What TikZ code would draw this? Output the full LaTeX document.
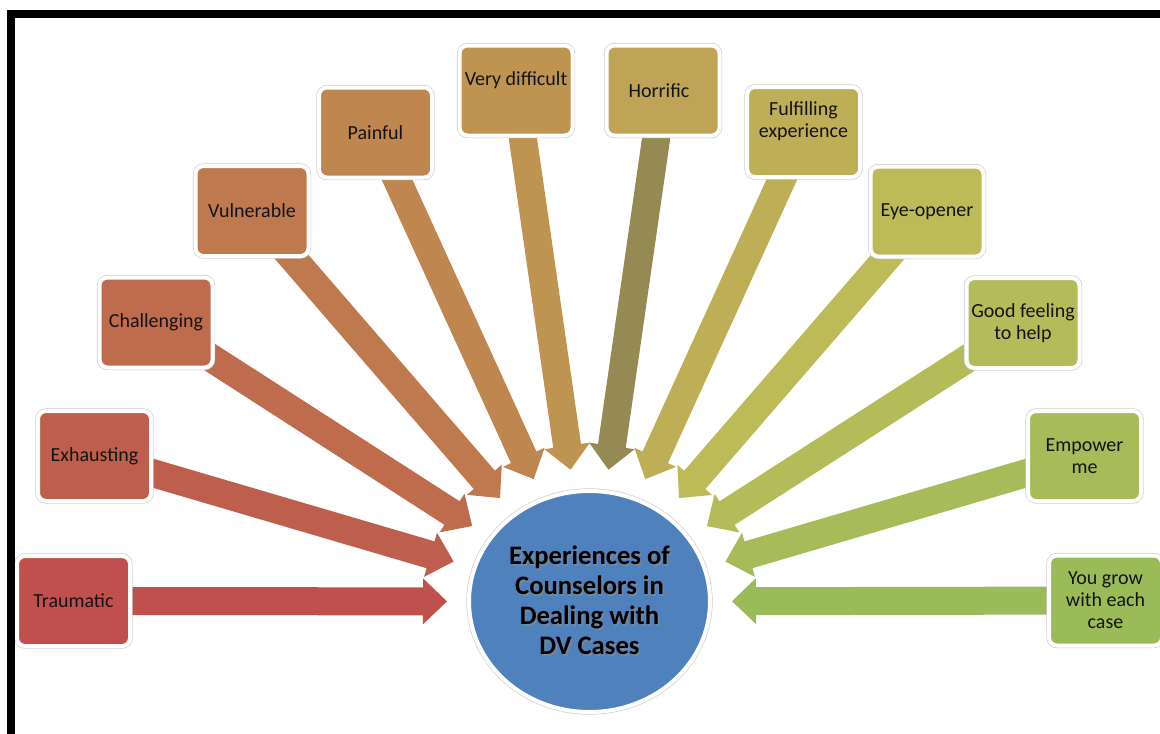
\documentclass[tikz,border=0pt]{standalone}
\usepackage{fontspec}
\setmainfont{Carlito}
\usetikzlibrary{calc,shapes.geometric}
\definecolor{c1}{RGB}{192,80,77}
\definecolor{c2}{RGB}{190,94,77}
\definecolor{c3}{RGB}{191,108,78}
\definecolor{c4}{RGB}{191,121,79}
\definecolor{c5}{RGB}{191,134,80}
\definecolor{c6}{RGB}{191,147,80}
\definecolor{c7}{RGB}{191,163,87}
\definecolor{c7a}{RGB}{149,138,83}
\definecolor{c8}{RGB}{190,175,86}
\definecolor{c9}{RGB}{189,187,88}
\definecolor{c10}{RGB}{180,188,89}
\definecolor{c11}{RGB}{167,187,89}
\definecolor{c12}{RGB}{155,187,89}
\definecolor{hub}{RGB}{79,129,189}
\tikzset{
  box/.style={rounded corners=6pt, minimum width=84.75pt, minimum height=67.5pt,
    fill=#1, draw=white, line width=3pt, preaction={draw=black!20, line width=4pt},
    inner sep=0pt, outer sep=0pt},
  lbl/.style={font=\fontsize{15}{16.5}\selectfont, text=black!92, align=center, inner sep=0pt},
  hubtext/.style={font=\fontsize{20}{22.5}\selectfont\bfseries, align=center, inner sep=0pt},
}
\newcommand\dvarrow[3]{%
  \coordinate (hb) at ($(#2)!18pt!(#1)$);
  \fill[#3] ($(#1)!10.5pt!90:(#2)$) -- ($(hb)!10.5pt!-90:(#1)$) -- ($(hb)!17.25pt!-90:(#1)$)
    -- (#2) -- ($(hb)!17.25pt!90:(#1)$) -- ($(hb)!10.5pt!90:(#1)$) -- ($(#1)!10.5pt!-90:(#2)$) -- cycle;
}
\begin{document}
\begin{tikzpicture}[x=0.75pt,y=-0.75pt]
\useasboundingbox (0,0) rectangle (1160,733);
% invisible ring on which the arrow tips lie
\node[ellipse, minimum width=213.75pt, minimum height=199.5pt, inner sep=0pt, outer sep=0pt] (ring) at (589.5,601.5) {};
% box anchors (centres)
\coordinate (p1) at (73.5,601);
\coordinate (p2) at (94.5,456);
\coordinate (p3) at (156,322.5);
\coordinate (p4) at (252,211);
\coordinate (p5) at (375.5,132.5);
\coordinate (p6) at (516,90.5);
\coordinate (p7) at (663,90.5);
\coordinate (p8) at (803.5,132);
\coordinate (p9) at (927,211.5);
\coordinate (p10) at (1023,323);
\coordinate (p11) at (1084.5,456);
\coordinate (p12) at (1105.5,600.5);
\foreach \i in {1,...,12}{\path (p\i) -- (ring) coordinate[pos=1] (t\i);}
% arrows
\dvarrow{p1}{t1}{c1}
\dvarrow{p2}{t2}{c2}
\dvarrow{p3}{t3}{c3}
\dvarrow{p4}{t4}{c4}
\dvarrow{p5}{t5}{c5}
\dvarrow{p6}{t6}{c6}
\dvarrow{p7}{t7}{c7a}
\dvarrow{p8}{t8}{c8}
\dvarrow{p9}{t9}{c9}
\dvarrow{p10}{t10}{c10}
\dvarrow{p11}{t11}{c11}
\dvarrow{p12}{t12}{c12}
% boxes
\node[box=c1] (b1) at (p1) {};
\node[box=c2] (b2) at (p2) {};
\node[box=c3] (b3) at (p3) {};
\node[box=c4] (b4) at (p4) {};
\node[box=c5] (b5) at (p5) {};
\node[box=c6] (b6) at (p6) {};
\node[box=c7] (b7) at (p7) {};
\node[box=c8] (b8) at (p8) {};
\node[box=c9] (b9) at (p9) {};
\node[box=c10] (b10) at (p10) {};
\node[box=c11] (b11) at (p11) {};
\node[box=c12] (b12) at (p12) {};
% labels
\node[lbl] (l1) at (b1) {Traumatic};
\node[lbl] (l2) at (b2) {Exhausting};
\node[lbl] (l3) at (b3) {Challenging};
\node[lbl] (l4) at (b4) {Vulnerable};
\node[lbl] (l5) at (b5) {Painful};
\node[lbl] (l6) at ($(b6)+(0,-10.5)$) {Very difficult};
\node[lbl] (l7) at ($(b7)+(-4,0)$) {Horrific};
\node[lbl] (l8) at ($(b8)+(0,-11)$) {Fulfilling\\experience};
\node[lbl] (l9) at (b9) {Eye-opener};
\node[lbl] (l10) at (b10) {Good feeling\\to help};
\node[lbl] (l11) at (b11) {Empower\\me};
\node[lbl] (l12) at (b12) {You grow\\with each\\case};
% hub
\node[ellipse, minimum width=180.75pt, minimum height=165.75pt, fill=hub, draw=white,
  line width=3pt, preaction={draw=black!20, line width=4pt}, inner sep=0pt, outer sep=0pt] (hub) at (589.5,601.5) {};
\node[hubtext, text=black!45, opacity=0.6] (hubs) at (591,602) {Experiences of\\Counselors in\\Dealing with\\DV Cases};
\node[hubtext, text=black] (hubt) at (589.5,600) {Experiences of\\Counselors in\\Dealing with\\DV Cases};
% frame
\draw[line width=6pt, line join=miter] (11,740) -- (11,13.5) -- (1170,13.5);
\end{tikzpicture}
\end{document}
